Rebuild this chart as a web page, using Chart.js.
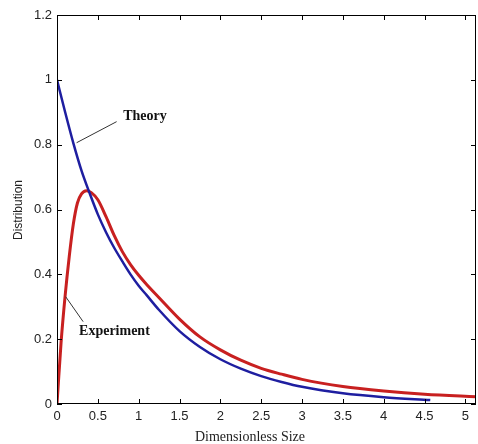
<!DOCTYPE html>
<html>
<head>
<meta charset="utf-8">
<script src="https://cdn.jsdelivr.net/npm/chart.js@4"></script>
<style>
  html, body { margin: 0; padding: 0; background: #fff; }
  #wrap { width: 478px; height: 444px; }
</style>
</head>
<body>
<div id="wrap"><canvas id="chart" width="478" height="444"></canvas></div>
<script>
// values
var theoryX = [0, 0.1, 0.2, 0.3, 0.4, 0.5, 0.6, 0.7, 0.8, 0.9, 1.0, 1.1, 1.25, 1.5, 1.75, 2.0, 2.25, 2.5, 2.75, 3.0, 3.5, 4.0, 4.57];
var theoryY = [1.0, 0.9, 0.805, 0.72, 0.65, 0.585, 0.53, 0.482, 0.44, 0.4, 0.365, 0.335, 0.29, 0.225, 0.176, 0.138, 0.109, 0.086, 0.068, 0.053, 0.033, 0.021, 0.012];

var experimentX = [0, 0.05, 0.1, 0.15, 0.2, 0.25, 0.3, 0.36, 0.42, 0.5, 0.6, 0.7, 0.8, 0.9, 1.0, 1.1, 1.25, 1.5, 1.75, 2.0, 2.25, 2.5, 2.75, 3.0, 3.5, 4.0, 4.5, 5.16];
var experimentY = [0, 0.19, 0.335, 0.455, 0.555, 0.62, 0.648, 0.658, 0.652, 0.63, 0.578, 0.52, 0.47, 0.43, 0.397, 0.368, 0.328, 0.262, 0.207, 0.167, 0.135, 0.11, 0.092, 0.076, 0.054, 0.04, 0.03, 0.022];

var xTicks = [0, 0.5, 1, 1.5, 2, 2.5, 3, 3.5, 4, 4.5, 5];
var yTicks = [0, 0.2, 0.4, 0.6, 0.8, 1, 1.2];

// annotation labels with leader lines, in data units
var notes = [
  { text: 'Theory', tx: 0.81, ty: 0.886, from: [0.24, 0.806], to: [0.73, 0.871] },
  { text: 'Experiment', tx: 0.27, ty: 0.225, from: [0.106, 0.331], to: [0.32, 0.254] }
];

function pts(xs, ys) {
  return xs.map(function (x, i) { return { x: x, y: ys[i] }; });
}

var frame = {
  id: 'frame',
  afterDatasetsDraw: function (chart) {
    var ctx = chart.ctx, a = chart.chartArea;
    var xs = chart.scales.x, ys = chart.scales.y;
    ctx.save();
    ctx.strokeStyle = '#000';
    ctx.lineWidth = 1;
    ctx.strokeRect(Math.round(a.left) + 0.5, Math.round(a.top) + 0.5,
      Math.round(a.right - a.left) - 1, Math.round(a.bottom - a.top) - 1);
    ctx.beginPath();
    xTicks.forEach(function (v) {
      var p = Math.round(xs.getPixelForValue(v)) + 0.5;
      ctx.moveTo(p, a.bottom); ctx.lineTo(p, a.bottom - 5);
      ctx.moveTo(p, a.top); ctx.lineTo(p, a.top + 5);
    });
    yTicks.forEach(function (v) {
      var p = Math.round(ys.getPixelForValue(v)) + 0.5;
      ctx.moveTo(a.left, p); ctx.lineTo(a.left + 5, p);
      ctx.moveTo(a.right, p); ctx.lineTo(a.right - 5, p);
    });
    ctx.stroke();

    // leader lines and labels
    ctx.strokeStyle = '#333';
    ctx.fillStyle = '#111';
    ctx.font = 'bold 14px "Liberation Serif", "DejaVu Serif", serif';
    ctx.textBaseline = 'middle';
    ctx.textAlign = 'left';
    notes.forEach(function (n) {
      ctx.beginPath();
      ctx.moveTo(xs.getPixelForValue(n.from[0]), ys.getPixelForValue(n.from[1]));
      ctx.lineTo(xs.getPixelForValue(n.to[0]), ys.getPixelForValue(n.to[1]));
      ctx.stroke();
      ctx.fillText(n.text, xs.getPixelForValue(n.tx), ys.getPixelForValue(n.ty));
    });

    // axis titles
    ctx.fillStyle = '#222';
    ctx.font = '14px "Liberation Serif", serif';
    ctx.textAlign = 'center';
    ctx.fillText('Dimensionless Size', 250, 437);
    ctx.save();
    ctx.translate(19, 210);
    ctx.rotate(-Math.PI / 2);
    ctx.font = '12px "Liberation Sans", Arial, sans-serif';
    ctx.fillText('Distribution', 0, 0);
    ctx.restore();
    ctx.restore();
  }
};

new Chart(document.getElementById('chart'), {
  type: 'line',
  data: {
    datasets: [
      {
        label: 'Theory',
        data: pts(theoryX, theoryY),
        borderColor: '#1e1ea0',
        borderWidth: 2.5,
        pointRadius: 0,
        fill: false,
        cubicInterpolationMode: 'monotone'
      },
      {
        label: 'Experiment',
        data: pts(experimentX, experimentY),
        borderColor: '#c82020',
        borderWidth: 3,
        pointRadius: 0,
        fill: false,
        cubicInterpolationMode: 'monotone'
      }
    ]
  },
  options: {
    responsive: false,
    animation: false,
    layout: { padding: { top: 15, right: 2, left: 0, bottom: 0 } },
    plugins: {
      legend: { display: false },
      tooltip: { enabled: false }
    },
    scales: {
      x: {
        type: 'linear',
        min: 0,
        max: 5.13,
        afterBuildTicks: function (s) { s.ticks = xTicks.map(function (v) { return { value: v }; }); },
        afterFit: function (s) { s.height = 40; },
        grid: { display: false, drawTicks: false },
        border: { display: false },
        ticks: {
          padding: 5,
          color: '#222',
          font: { family: '"Liberation Sans", Arial, sans-serif', size: 13 },
          maxRotation: 0,
          callback: function (v) { return String(+v.toFixed(2)); }
        }
      },
      y: {
        min: 0,
        max: 1.2,
        afterBuildTicks: function (s) { s.ticks = yTicks.map(function (v) { return { value: v }; }); },
        afterFit: function (s) { s.width = 57; },
        grid: { display: false, drawTicks: false },
        border: { display: false },
        ticks: {
          padding: 5,
          color: '#222',
          font: { family: '"Liberation Sans", Arial, sans-serif', size: 13 },
          callback: function (v) { return String(+v.toFixed(2)); }
        }
      }
    }
  },
  plugins: [frame]
});
</script>
</body>
</html>
